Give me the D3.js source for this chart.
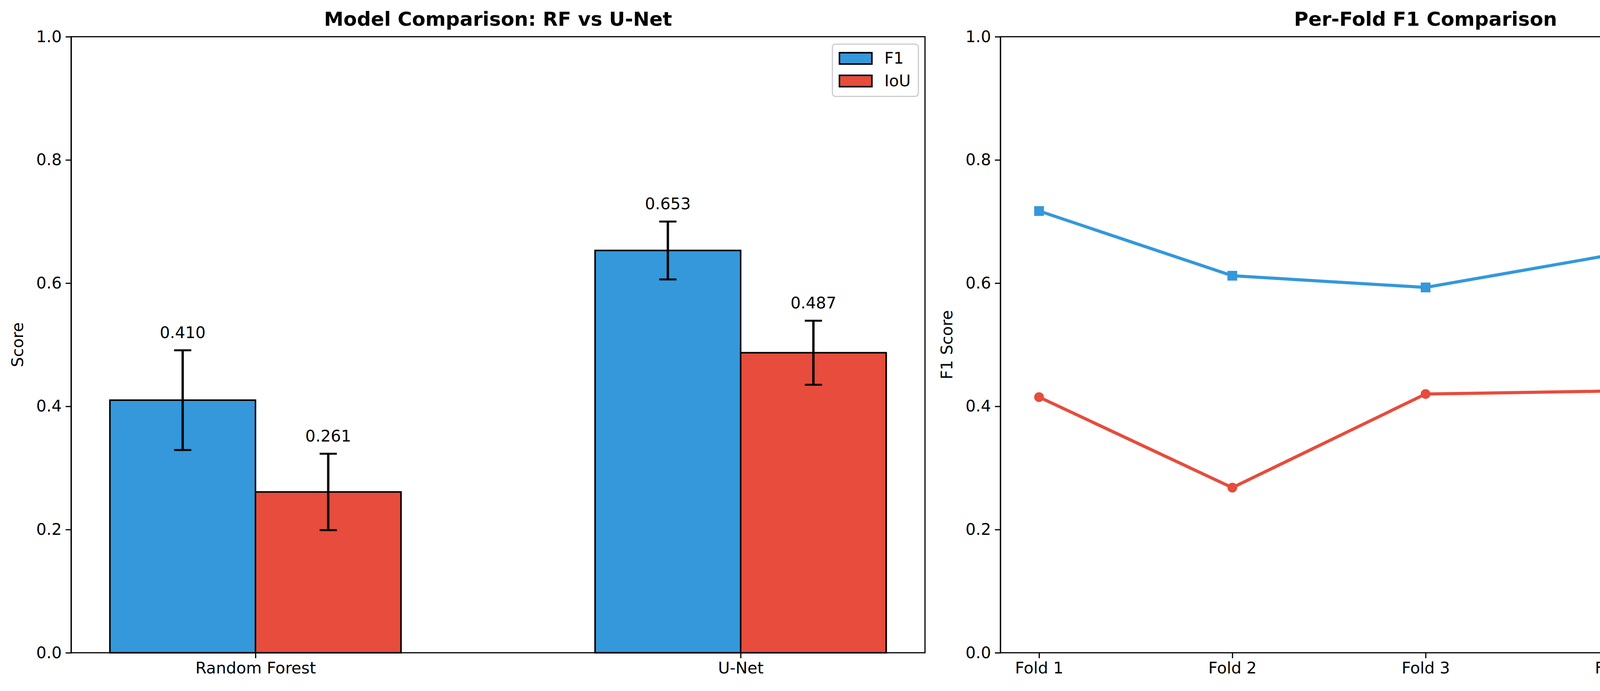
<!DOCTYPE html>
<html><head><meta charset="utf-8">
<script src="https://cdn.jsdelivr.net/npm/d3@7"></script>
<style>body{margin:0;background:#fff}text{font-family:"DejaVu Sans",sans-serif}</style>
</head><body>
<script>
// bar chart data
const models = ['Random Forest', 'U-Net']
const f1Mean = [0.410, 0.653]
const f1Std = [0.081, 0.047]
const iouMean = [0.261, 0.487]
const iouStd = [0.062, 0.052]
// per-fold data
const folds = ['Fold 1', 'Fold 2', 'Fold 3', 'Fold 4', 'Fold 5']
const rfFolds = [0.415, 0.268, 0.420, 0.425, 0.522]
const unetFolds = [0.717, 0.612, 0.593, 0.648, 0.693]
const yTicks = [0, 0.2, 0.4, 0.6, 0.8, 1.0]

const BLUE = '#3498db', RED = '#e74c3c'
const W = 4767, H = 1770, plotTop = 94, plotBottom = 1672
const svg = d3.select('body').append('svg').attr('width', W).attr('height', H)
const y = d3.scaleLinear().domain([0, 1]).range([plotBottom, plotTop])

function frame(x0, x1, title, ylabel) {
  const g = svg.append('g')
  g.append('g').attr('transform', `translate(${x0},0)`)
    .call(d3.axisLeft(y).tickValues(yTicks).tickFormat(d3.format('.1f')).tickSize(14).tickPadding(10))
    .call(a => { a.selectAll('text').attr('font-size', 41); a.selectAll('line,path').attr('stroke-width', 3) })
  g.append('text').attr('x', (x0 + x1) / 2).attr('y', 66).attr('text-anchor', 'middle')
    .attr('font-size', 50).attr('font-weight', 'bold').text(title)
  g.append('text').attr('transform', `translate(${x0 - 123},${(plotTop + plotBottom) / 2}) rotate(-90)`)
    .attr('text-anchor', 'middle').attr('font-size', 41).text(ylabel)
  return g
}
function border(x0, x1) {
  svg.append('rect').attr('x', x0).attr('y', plotTop).attr('width', x1 - x0).attr('height', plotBottom - plotTop)
    .attr('fill', 'none').attr('stroke', '#000').attr('stroke-width', 3)
}
function xAxis(x, vals, fmt) {
  svg.append('g').attr('transform', `translate(0,${plotBottom})`)
    .call(d3.axisBottom(x).tickValues(vals).tickFormat(fmt).tickSize(14).tickPadding(10))
    .call(a => { a.select('path').remove(); a.selectAll('text').attr('font-size', 41); a.selectAll('line').attr('stroke-width', 3) })
}

// left panel
const L0 = 182, L1 = 2368
frame(L0, L1, 'Model Comparison: RF vs U-Net', 'Score')
const xb = d3.scaleLinear().domain([-0.38, 1.38]).range([L0, L1])
const bw = 0.3
const series = [
  { name: 'F1', mean: f1Mean, std: f1Std, color: BLUE, off: -bw / 2 },
  { name: 'IoU', mean: iouMean, std: iouStd, color: RED, off: bw / 2 }
]
series.forEach(s => {
  const g = svg.append('g')
  s.mean.forEach((v, i) => {
    const cx = xb(i + s.off)
    g.append('rect').attr('x', xb(i + s.off - bw / 2)).attr('width', xb(bw) - xb(0))
      .attr('y', y(v)).attr('height', y(0) - y(v)).attr('fill', s.color).attr('stroke', '#000').attr('stroke-width', 4)
    const lo = y(v - s.std[i]), hi = y(v + s.std[i])
    g.append('line').attr('x1', cx).attr('x2', cx).attr('y1', lo).attr('y2', hi).attr('stroke', '#000').attr('stroke-width', 6)
    ;[lo, hi].forEach(yy => g.append('line').attr('x1', cx - 22).attr('x2', cx + 22).attr('y1', yy).attr('y2', yy).attr('stroke', '#000').attr('stroke-width', 5))
    g.append('text').attr('x', cx).attr('y', y(v + s.std[i] + 0.02)).attr('text-anchor', 'middle')
      .attr('font-size', 41).text(v.toFixed(3))
  })
})
xAxis(xb, [0, 1], i => models[i])
border(L0, L1)
// legend
const lg = svg.append('g').attr('transform', 'translate(2131,113)')
lg.append('rect').attr('width', 220).attr('height', 134).attr('rx', 8).attr('fill', '#fff').attr('stroke', '#ccc').attr('stroke-width', 3)
series.forEach((s, i) => {
  lg.append('rect').attr('x', 18).attr('y', 22 + i * 58).attr('width', 83).attr('height', 29).attr('fill', s.color).attr('stroke', '#000').attr('stroke-width', 4)
  lg.append('text').attr('x', 133).attr('y', 50 + i * 58).attr('font-size', 41).text(s.name)
})

// right panel
const R0 = 2561, R1 = 4738
frame(R0, R1, 'Per-Fold F1 Comparison', 'F1 Score')
const xl = d3.scaleLinear().domain([-0.2, 4.2]).range([R0, R1])
const line = d3.line().x((d, i) => xl(i)).y(d => y(d))
const lines = [
  { name: 'RF F1', vals: rfFolds, color: RED, shape: 'circle' },
  { name: 'U-Net F1', vals: unetFolds, color: BLUE, shape: 'square' }
]
function marker(g, shape, cx, cy, color) {
  if (shape === 'circle') g.append('circle').attr('cx', cx).attr('cy', cy).attr('r', 12.5).attr('fill', color)
  else g.append('rect').attr('x', cx - 12.5).attr('y', cy - 12.5).attr('width', 25).attr('height', 25).attr('fill', color)
}
lines.forEach(s => {
  const g = svg.append('g')
  g.append('path').datum(s.vals).attr('d', line).attr('fill', 'none').attr('stroke', s.color).attr('stroke-width', 8)
  s.vals.forEach((v, i) => marker(g, s.shape, xl(i), y(v), s.color))
})
xAxis(xl, d3.range(5), i => folds[i])
border(R0, R1)
const lg2 = svg.append('g').attr('transform', 'translate(4395,113)')
lg2.append('rect').attr('width', 332).attr('height', 134).attr('rx', 8).attr('fill', '#fff').attr('stroke', '#ccc').attr('stroke-width', 3)
lines.forEach((s, i) => {
  const yy = 36 + i * 58
  lg2.append('line').attr('x1', 14).attr('x2', 97).attr('y1', yy).attr('y2', yy).attr('stroke', s.color).attr('stroke-width', 8)
  marker(lg2, s.shape, 55, yy, s.color)
  lg2.append('text').attr('x', 130).attr('y', yy + 14).attr('font-size', 41).text(s.name)
})
</script>
</body></html>
